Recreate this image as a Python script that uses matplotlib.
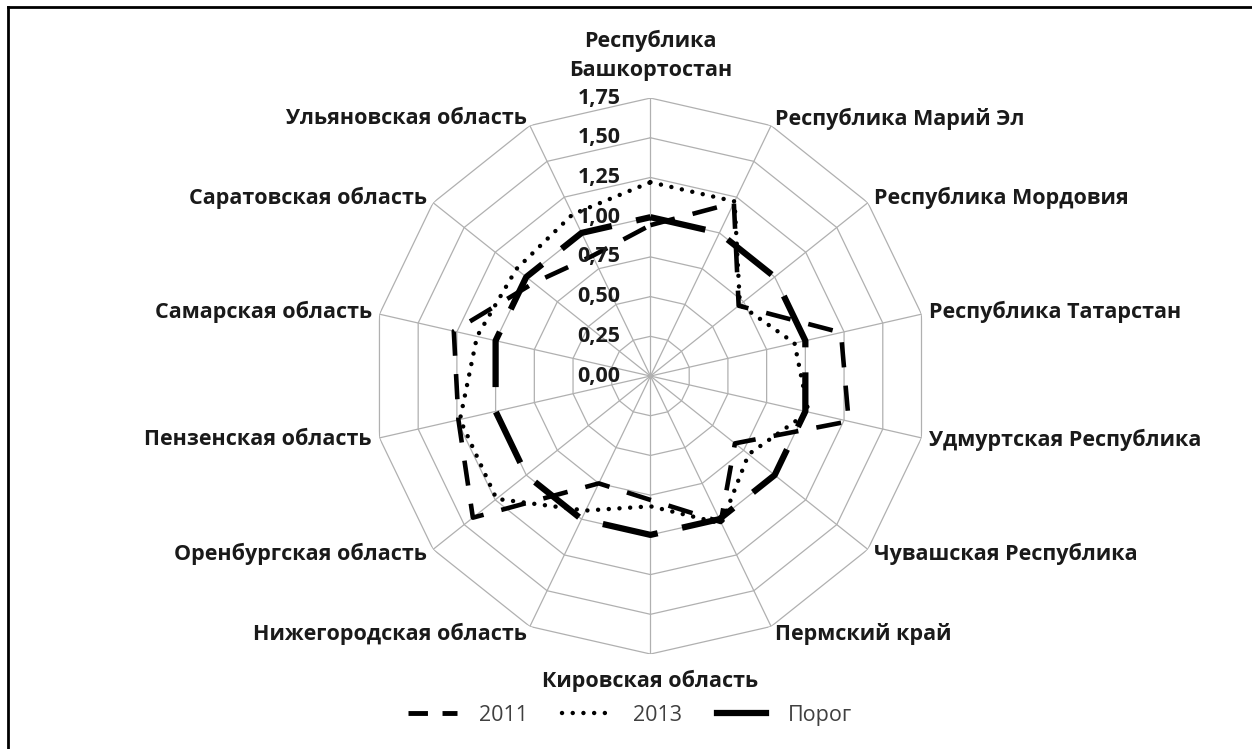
import numpy as np
import matplotlib
matplotlib.use('Agg')
import matplotlib.pyplot as plt
from matplotlib.lines import Line2D
from matplotlib.transforms import offset_copy

plt.rcParams['font.family'] = ['Open Sans', 'Noto Sans', 'DejaVu Sans']

regions = ['Республика\nБашкортостан', 'Республика Марий Эл', 'Республика Мордовия',
           'Республика Татарстан', 'Удмуртская Республика', 'Чувашская Республика',
           'Пермский край', 'Кировская область', 'Нижегородская область',
           'Оренбургская область', 'Пензенская область', 'Самарская область',
           'Саратовская область', 'Ульяновская область']
vals_2011 = [0.95, 1.21, 0.71, 1.23, 1.28, 0.68, 1.02, 0.78, 0.75, 1.43, 1.24, 1.27, 0.94, 0.84]
vals_2013 = [1.22, 1.22, 0.72, 0.93, 1.02, 0.79, 1.03, 0.82, 0.94, 1.24, 1.23, 1.12, 1.08, 1.13]
vals_porog = [1.0] * 14
r_ticks = [0.0, 0.25, 0.5, 0.75, 1.0, 1.25, 1.5, 1.75]
r_labels = ['0,00', '0,25', '0,50', '0,75', '1,00', '1,25', '1,50', '1,75']

n = len(regions)
theta = np.arange(n) * 2 * np.pi / n
theta_c = np.append(theta, theta[0])

DASH = (0, (5.5, 4))
DOT = (0, (0.01, 2.4))
FS = 15.5


def closed(v):
    return np.append(v, v[0])


fig = plt.figure(figsize=(12.52, 7.49), dpi=100)
ax = fig.add_axes([0.2975, 0.1268, 0.4441, 0.7423], projection='polar')
ax.set_theta_zero_location('N')
ax.set_theta_direction(-1)
ax.set_ylim(0, 1.75)
ax.grid(False)
ax.spines['polar'].set_visible(False)
ax.set_xticks([])
ax.set_yticks([])

# polygon grid
for r in r_ticks[1:]:
    ax.plot(theta_c, [r] * (n + 1), color='#b0b0b0', lw=0.9, zorder=1)
for t in theta:
    ax.plot([t, t], [0, 1.75], color='#b0b0b0', lw=0.9, zorder=1)

ax.plot(theta_c, closed(vals_2011), color='black', lw=3.3, ls=DASH, zorder=3)
ax.plot(theta_c, closed(vals_2013), color='black', lw=3.2, ls=DOT,
        dash_capstyle='round', zorder=3)
ax.plot(theta_c, closed(vals_porog), color='black', lw=4.5, ls=(0, (9, 4)), zorder=2)

# radial tick labels
tr = offset_copy(ax.transData, fig=fig, x=-30, y=0, units='dots')
for r, lbl in zip(r_ticks, r_labels):
    ax.text(0, r, lbl, transform=tr, ha='right', va='center', fontsize=FS,
            fontweight='bold', color='#1a1a1a', zorder=4)

# category labels
for i, (t, lbl) in enumerate(zip(theta, regions)):
    s = np.sin(t)
    if i == 0:
        ax.text(t, 1.855, lbl, ha='center', va='bottom', fontsize=FS, fontweight='bold',
                linespacing=1.5, color='#1a1a1a')
    elif i == 7:
        ax.text(t, 1.85, lbl, ha='center', va='top', fontsize=FS, fontweight='bold',
                color='#1a1a1a')
    else:
        ax.text(t, 1.8, lbl, ha='left' if s > 0 else 'right', va='center',
                fontsize=FS, fontweight='bold', color='#1a1a1a')

handles = [Line2D([], [], color='black', lw=3.5, ls=(0, (4, 3))),
           Line2D([], [], color='black', lw=3.2, ls=DOT, dash_capstyle='round'),
           Line2D([], [], color='black', lw=4.5)]
fig.legend(handles, ['2011', '2013', 'Порог'], loc='center', bbox_to_anchor=(0.503, 0.045),
           ncol=3, frameon=False, fontsize=FS, handlelength=2.3, handletextpad=1.0,
           columnspacing=1.6, labelcolor='#404040')

# frame of the picture
fig.add_artist(Line2D([0.006, 0.006], [0, 0.991], transform=fig.transFigure, color='black', lw=2))
fig.add_artist(Line2D([0.006, 1], [0.991, 0.991], transform=fig.transFigure, color='black', lw=2))

fig.savefig('out.png', dpi=100)
